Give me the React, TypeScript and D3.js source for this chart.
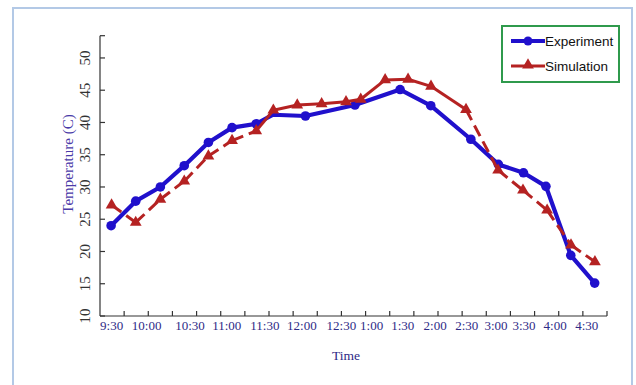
import React from 'react';
import * as d3 from 'd3';

// x is measured in axis "slots" (the axis has 21 evenly spaced minor ticks)
const tickLabels = ['9:30', '10:00', '10:30', '11:00', '11:30', '12:00', '12:30', '1:00', '1:30', '2:00', '2:30', '3:00', '3:30', '4:00', '4:30'];
const tickLabelPos = [0.48, 1.93, 3.73, 5.25, 6.83, 8.36, 10.0, 11.25, 12.54, 13.88, 15.19, 16.4, 17.56, 18.85, 20.16];

const expX = [0.46, 1.48, 2.5, 3.49, 4.49, 5.47, 6.47, 7.17, 8.51, 10.56, 12.43, 13.7, 15.36, 16.5, 17.54, 18.47, 19.5, 20.49];
const expY = [24.0, 27.8, 30.0, 33.3, 36.9, 39.2, 39.8, 41.2, 41.0, 42.7, 45.1, 42.6, 37.4, 33.5, 32.2, 30.1, 19.4, 15.1];

const simX = [0.48, 1.48, 2.5, 3.49, 4.49, 5.47, 6.47, 7.18, 8.17, 9.18, 10.19, 10.8, 11.81, 12.76, 13.71, 15.16, 16.49, 17.52, 18.52, 19.51, 20.5];
const simY = [27.2, 24.5, 28.1, 30.9, 34.8, 37.2, 38.7, 41.9, 42.7, 42.9, 43.2, 43.6, 46.6, 46.7, 45.6, 42.0, 32.6, 29.5, 26.4, 21.0, 18.4];

const yTicks = [10, 15, 20, 25, 30, 35, 40, 45, 50];

const W = 636;
const H = 385;
const left = 100;
const right = 607;
const top = 35.7;
const bottom = 316;

const BLUE = '#2010cc';
const RED = '#b52222';
const LABEL = '#2e2a86';

export default function App() {
  const x = d3.scaleLinear().domain([0, 21]).range([left, right]);
  const y = d3.scaleLinear().domain([10, 53.45]).range([bottom, top]);

  const exp = expX.map((v, i) => [v, expY[i]] as [number, number]);
  const sim = simX.map((v, i) => [v, simY[i]] as [number, number]);

  const line = d3.line<[number, number]>().x((d) => x(d[0])).y((d) => y(d[1]));
  const tri = d3.symbol(d3.symbolTriangle, 60)();
  const minorTicks = d3.range(1, 22);

  // the bend under the 11:30 triangle has no visible marker
  const hiddenExpMarker = 7;

  // simulation line is solid through the midday stretch, dashed elsewhere
  const solidFrom = 6;
  const solidTo = 15;
  const simSegs = d3.range(sim.length - 1).map((i) => ({
    d: line([sim[i], sim[i + 1]]),
    solid: i >= solidFrom && i < solidTo,
  }));

  return (
    <svg width={W} height={H} style={{ position: 'absolute', left: 0, top: 0, background: '#fff' }}>
      <rect x={13} y={8} width={619} height={400} fill="#fff" stroke="#b3c9e6" strokeWidth={2} />

      {/* axes */}
      <g stroke="#333" strokeWidth={1.2} fill="none">
        <line x1={left} x2={left} y1={top} y2={bottom} />
        <line x1={left} x2={right} y1={bottom} y2={bottom} />
        <line x1={left} x2={left + 5} y1={top} y2={top} />
        {yTicks.map((t) => (
          <line key={t} x1={left} x2={left + 5} y1={y(t)} y2={y(t)} />
        ))}
        {minorTicks.map((t) => (
          <line key={t} x1={x(t)} x2={x(t)} y1={bottom} y2={bottom - 5} />
        ))}
      </g>
      {yTicks.map((t) => (
        <text key={t} transform={`translate(${85},${y(t)}) rotate(-90)`} textAnchor="middle" dominantBaseline="central"
          fontFamily="Liberation Serif, serif" fontSize={15} fill="#333">{t}</text>
      ))}
      {tickLabels.map((t, i) => (
        <text key={t} x={x(tickLabelPos[i])} y={325} textAnchor="middle" dominantBaseline="central"
          fontFamily="Liberation Serif, serif" fontSize={13} fill={LABEL}>{t}</text>
      ))}
      <text x={346} y={355} textAnchor="middle" dominantBaseline="central" fontFamily="Liberation Serif, serif"
        fontSize={13.5} fill={LABEL}>Time</text>
      <text transform={`translate(68,164) rotate(-90)`} textAnchor="middle" dominantBaseline="central"
        fontFamily="Liberation Serif, serif" fontSize={15} fill="#4a3aa8">Temperature (C)</text>

      {/* experiment */}
      <path d={line(exp) ?? ''} fill="none" stroke={BLUE} strokeWidth={4.2} strokeLinejoin="round" />
      {exp.map((d, i) => (i === hiddenExpMarker ? null : (
        <circle key={i} cx={x(d[0])} cy={y(d[1])} r={4.8} fill={BLUE} />
      )))}

      {/* simulation */}
      {simSegs.map((s, i) => (
        <path key={i} d={s.d ?? ''} fill="none" stroke={RED} strokeWidth={3}
          strokeDasharray={s.solid ? undefined : '12,6'} />
      ))}
      {sim.map((d, i) => (
        <path key={i} d={tri ?? ''} transform={`translate(${x(d[0])},${y(d[1])})`} fill={RED} />
      ))}

      {/* legend */}
      <rect x={502} y={26} width={117} height={56} fill="#fff" stroke="#2f9a4c" strokeWidth={2} />
      <line x1={511} x2={545} y1={41} y2={41} stroke={BLUE} strokeWidth={4} />
      <circle cx={528} cy={41} r={4.5} fill={BLUE} />
      <text x={545} y={41} dominantBaseline="central" fontFamily="Liberation Sans, Arial, sans-serif" fontSize={13.5} fill="#111">Experiment</text>
      <line x1={511} x2={545} y1={66} y2={66} stroke={RED} strokeWidth={3} />
      <path d={tri ?? ''} transform="translate(528,65)" fill={RED} />
      <text x={545} y={66} dominantBaseline="central" fontFamily="Liberation Sans, Arial, sans-serif" fontSize={13.5} fill="#111">Simulation</text>
    </svg>
  );
}
